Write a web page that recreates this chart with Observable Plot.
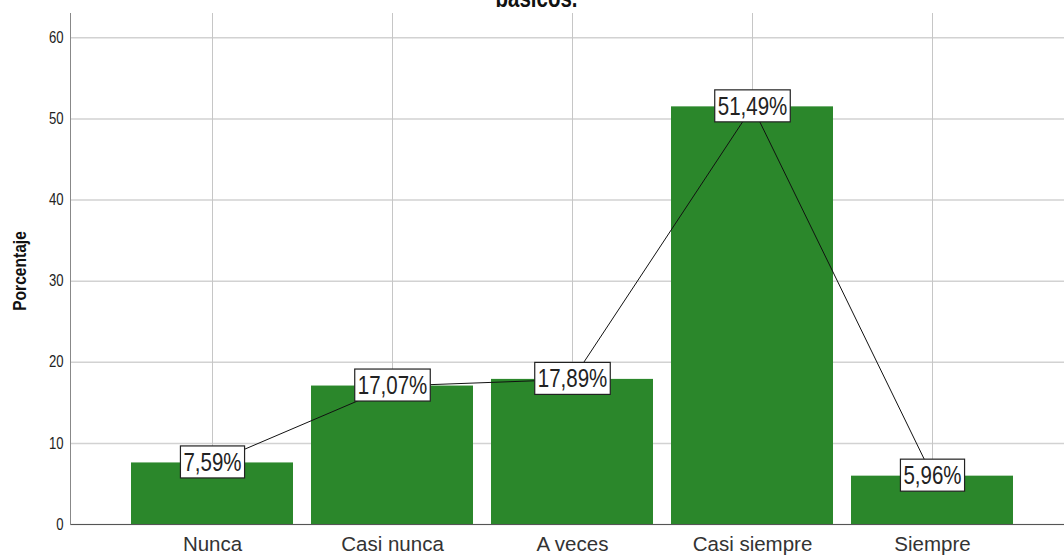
<!DOCTYPE html>
<html><head><meta charset="utf-8">
<script src="https://cdn.jsdelivr.net/npm/d3@7"></script>
<script src="https://cdn.jsdelivr.net/npm/@observablehq/plot@0.6"></script>
<style>
body{margin:0;background:#fff;}
#chart{position:relative;width:1064px;height:556px;overflow:hidden;}
</style>
</head><body><div id="chart"></div>
<script>
const categories = ["Nunca", "Casi nunca", "A veces", "Casi siempre", "Siempre"];
const percentages = [7.59, 17.07, 17.89, 51.49, 5.96];
const valueLabels = ["7,59%", "17,07%", "17,89%", "51,49%", "5,96%"];
const yTicks = [0, 10, 20, 30, 40, 50, 60];
const titleText = "básicos.";
const yLabel = "Porcentaje";

const data = categories.map((c, i) => ({cat: c, pct: percentages[i], label: valueLabels[i]}));

const SX = 0.82; // narrow (Arial Narrow-like) horizontal squeeze

const svg = Plot.plot({
  width: 1064, height: 556,
  marginLeft: 70, marginRight: 0, marginTop: 13, marginBottom: 32,
  style: {fontFamily: "'Liberation Sans', Arial, sans-serif", background: "#fff", overflow: "visible"},
  x: {domain: categories, range: [110.5, 1033.5], padding: 0.1, label: null},
  y: {domain: [0, 63], label: null},
  marks: [
    Plot.gridY(yTicks, {stroke: "#d2d2d2", strokeOpacity: 1, strokeWidth: 1.5}),
    Plot.gridX(categories, {stroke: "#c6c6c6", strokeOpacity: 1, strokeWidth: 1}),
    Plot.barY(data, {x: "cat", y: "pct", fill: "#2b872b"}),
    Plot.ruleY([0], {stroke: "#555", strokeWidth: 1.2}),
    Plot.frame({anchor: "left", stroke: "#888"}),
    Plot.axisY(yTicks, {tickSize: 0, tickPadding: 7, fontSize: 16, fill: "#222", label: null, className: "sq"}),
    Plot.axisX({tickSize: 0, tickPadding: 12, fontSize: 20.5, fill: "#333", label: null}),
    Plot.line(data, {x: "cat", y: "pct", stroke: "#111", strokeWidth: 1}),
    Plot.text(data, {x: "cat", y: "pct", text: "label", fontSize: 25, fill: "#222", className: "vlabel"}),
    Plot.text([yLabel], {frameAnchor: "left", rotate: -90, dx: -51, dy: 2, textAnchor: "middle", fontSize: 19, fontWeight: "bold", fill: "#111", className: "sq"}),
    Plot.text([titleText], {frameAnchor: "top", dx: -31, dy: -7, fontSize: 25, fontWeight: "bold", fill: "#111", lineAnchor: "bottom", className: "sq"})
  ]
});
document.getElementById("chart").appendChild(svg);

function squeeze(el) {
  let t = el.getAttribute("transform");
  if (!t) {
    const x = +el.getAttribute("x") || 0, y = +el.getAttribute("y") || 0;
    el.removeAttribute("x"); el.removeAttribute("y");
    t = `translate(${x},${y})`;
  }
  el.setAttribute("transform", `${t} scale(${SX},1)`);
  return t;
}

d3.select(svg).selectAll("g.sq text").each(function() { squeeze(this); });

d3.select(svg).selectAll("g.vlabel text").each(function() {
  const b = this.getBBox();
  const base = squeeze(this);
  const padX = 3, padY = 2;
  const rect = document.createElementNS("http://www.w3.org/2000/svg", "rect");
  rect.setAttribute("x", b.x * SX - padX);
  rect.setAttribute("y", b.y - padY);
  rect.setAttribute("width", b.width * SX + 2 * padX);
  rect.setAttribute("height", b.height + 2 * padY);
  rect.setAttribute("fill", "#fff");
  rect.setAttribute("stroke", "#222");
  rect.setAttribute("stroke-width", "1.2");
  rect.setAttribute("transform", base);
  this.parentNode.insertBefore(rect, this);
});
</script>
</body></html>
